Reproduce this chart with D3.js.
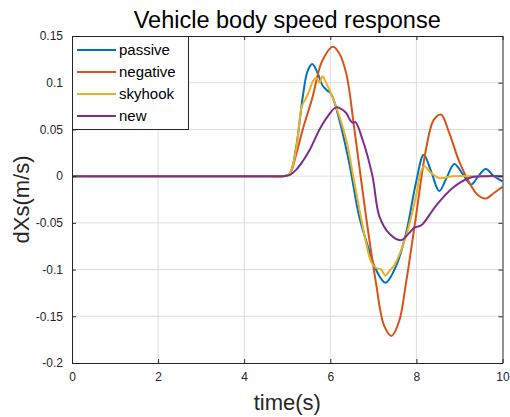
<!DOCTYPE html>
<html>
<head>
<meta charset="utf-8">
<script src="https://cdn.jsdelivr.net/npm/d3@7"></script>
<style>
  body { margin: 0; background: #fff; }
  svg text { font-family: "Liberation Sans", Arial, sans-serif; }
</style>
</head>
<body>
<script>
const W = 510, H = 417
const margin = {top: 36, right: 7, bottom: 54, left: 72}

// series names and colours
const names = ['passive', 'negative', 'skyhook', 'new']
const colors = ['#0072BD', '#D95319', '#EDB120', '#7E2F8E']

// all four curves sit at zero before the bump
const rest = [[0,0],[1,0],[2,0],[3,0],[4,0],[4.5,0],[4.9,0]]

// points: [time, speed]
const passive = rest.concat([[5.05,0.002],[5.21,0.032],[5.36,0.085],[5.47,0.112],[5.58,0.12],[5.7,0.111],[5.82,0.097],[5.92,0.092],[6.02,0.088],[6.2,0.062],[6.44,0.014],[6.67,-0.043],[6.9,-0.079],[7.06,-0.1],[7.28,-0.114],[7.53,-0.096],[7.76,-0.061],[7.99,-0.007],[8.17,0.023],[8.35,0.004],[8.53,-0.016],[8.7,-0.002],[8.88,0.013],[9.08,0.002],[9.27,-0.009],[9.44,0.0],[9.61,0.0077],[9.8,0.0],[10,-0.0055]])
const negative = rest.concat([[5.05,0.002],[5.2,0.022],[5.36,0.05],[5.59,0.085],[5.8,0.122],[6.06,0.1385],[6.2,0.132],[6.37,0.11],[6.56,0.05],[6.83,-0.043],[7.06,-0.114],[7.25,-0.16],[7.42,-0.171],[7.6,-0.155],[7.76,-0.114],[7.99,-0.043],[8.22,0.028],[8.4,0.06],[8.57,0.066],[8.75,0.048],[9.0,0.015],[9.23,-0.007],[9.42,-0.02],[9.61,-0.024],[9.8,-0.018],[10,-0.0115]])
const skyhook = rest.concat([[5.05,0.002],[5.21,0.03],[5.34,0.075],[5.42,0.082],[5.5,0.09],[5.6,0.102],[5.67,0.105],[5.75,0.1],[5.82,0.107],[5.9,0.1],[5.98,0.0925],[6.13,0.075],[6.37,0.039],[6.56,-0.007],[6.83,-0.071],[6.95,-0.092],[7.06,-0.098],[7.18,-0.1],[7.28,-0.1065],[7.38,-0.101],[7.49,-0.095],[7.76,-0.064],[7.99,-0.0216],[8.1,0.004],[8.18,0.0105],[8.35,0.003],[8.53,-0.002],[8.84,0.0],[9.2,0.0],[9.6,0.0],[10,0.0]])
const newer = rest.concat([[5.05,0.001],[5.21,0.007],[5.36,0.016],[5.52,0.028],[5.75,0.05],[5.94,0.064],[6.13,0.0736],[6.25,0.072],[6.37,0.0676],[6.46,0.06],[6.52,0.057],[6.58,0.058],[6.75,0.039],[6.98,0.0],[7.14,-0.043],[7.38,-0.062],[7.64,-0.0686],[7.83,-0.061],[7.95,-0.055],[8.03,-0.054],[8.13,-0.052],[8.45,-0.032],[8.84,-0.0127],[9.23,-0.002],[9.6,0.0],[10,0.0]])
const series = [passive, negative, skyhook, newer]

// tick labels
const xTicks = [0, 2, 4, 6, 8, 10]
const yTicks = [-0.2, -0.15, -0.1, -0.05, 0, 0.05, 0.1, 0.15]

const svg = d3.select('body').append('svg')
    .attr('width', W)
    .attr('height', H)

const xScale = d3.scaleLinear()
    .domain([0, 10])
    .range([margin.left, W - margin.right - 0.5])

const yScale = d3.scaleLinear()
    .domain([-0.2, 0.15])
    .range([H - margin.bottom, margin.top])

const x0 = xScale(0), x1 = xScale(10), y0 = yScale(-0.2), y1 = yScale(0.15)

// grid
svg.append('g').selectAll('line').data(xTicks.slice(1, -1)).enter().append('line')
    .attr('x1', d => xScale(d)).attr('x2', d => xScale(d))
    .attr('y1', y1).attr('y2', y0)
    .attr('stroke', '#dedede').attr('stroke-width', 1)
svg.append('g').selectAll('line').data(yTicks.slice(1, -1)).enter().append('line')
    .attr('y1', d => yScale(d)).attr('y2', d => yScale(d))
    .attr('x1', x0).attr('x2', x1)
    .attr('stroke', '#dedede').attr('stroke-width', 1)

// lines
const line = d3.line()
    .x(d => xScale(d[0]))
    .y(d => yScale(d[1]))
    .curve(d3.curveCatmullRom.alpha(0.5))

svg.append('g').selectAll('path').data(series).enter().append('path')
    .attr('d', d => line(d))
    .attr('fill', 'none')
    .attr('stroke', (d, i) => colors[i])
    .attr('stroke-width', 2)

// axes, ticks pointing inward like matlab
const tickFmt = d => d === 0 ? '0' : String(d)
svg.append('g')
    .attr('transform', 'translate(0,' + y0 + ')')
    .call(d3.axisBottom(xScale).tickValues(xTicks).tickFormat(tickFmt).tickSizeInner(-4).tickSizeOuter(0).tickPadding(9))
svg.append('g')
    .attr('transform', 'translate(' + x0 + ',0)')
    .call(d3.axisLeft(yScale).tickValues(yTicks).tickFormat(tickFmt).tickSizeInner(-4).tickSizeOuter(0).tickPadding(9))
svg.append('g')
    .attr('transform', 'translate(0,' + y1 + ')')
    .call(d3.axisTop(xScale).tickValues(xTicks).tickFormat('').tickSizeInner(-4).tickSizeOuter(0))
svg.append('g')
    .attr('transform', 'translate(' + x1 + ',0)')
    .call(d3.axisRight(yScale).tickValues(yTicks).tickFormat('').tickSizeInner(-4).tickSizeOuter(0))

svg.selectAll('.domain').attr('stroke', '#262626')
svg.selectAll('.tick line').attr('stroke', '#262626')
svg.selectAll('.tick text').attr('font-size', '12px').attr('fill', '#262626')
    .attr('font-family', '"Liberation Sans", Arial, sans-serif')

// legend
const lg = svg.append('g')
lg.append('rect')
    .attr('x', x0 + 0.5).attr('y', y1 + 0.5)
    .attr('width', 116).attr('height', 93)
    .attr('fill', '#fff').attr('stroke', '#262626')
names.forEach((n, i) => {
    const yy = y1 + 14 + i * 22
    lg.append('line')
        .attr('x1', x0 + 5).attr('x2', x0 + 44)
        .attr('y1', yy).attr('y2', yy)
        .attr('stroke', colors[i]).attr('stroke-width', 2)
    lg.append('text')
        .attr('x', x0 + 47).attr('y', yy + 5)
        .attr('font-size', '15px')
        .text(n)
})

// title and axis labels
svg.append('text')
    .attr('x', (x0 + x1) / 2)
    .attr('y', 28)
    .attr('text-anchor', 'middle')
    .attr('font-size', '23.5px')
    .text('Vehicle body speed response')
svg.append('text')
    .attr('x', (x0 + x1) / 2)
    .attr('y', 410)
    .attr('text-anchor', 'middle')
    .attr('font-size', '22px')
    .attr('fill', '#262626')
    .text('time(s)')
svg.append('text')
    .attr('transform', 'translate(29,' + ((y0 + y1) / 2) + ') rotate(-90)')
    .attr('text-anchor', 'middle')
    .attr('font-size', '22px')
    .attr('fill', '#262626')
    .text('dXs(m/s)')
</script>
</body>
</html>
